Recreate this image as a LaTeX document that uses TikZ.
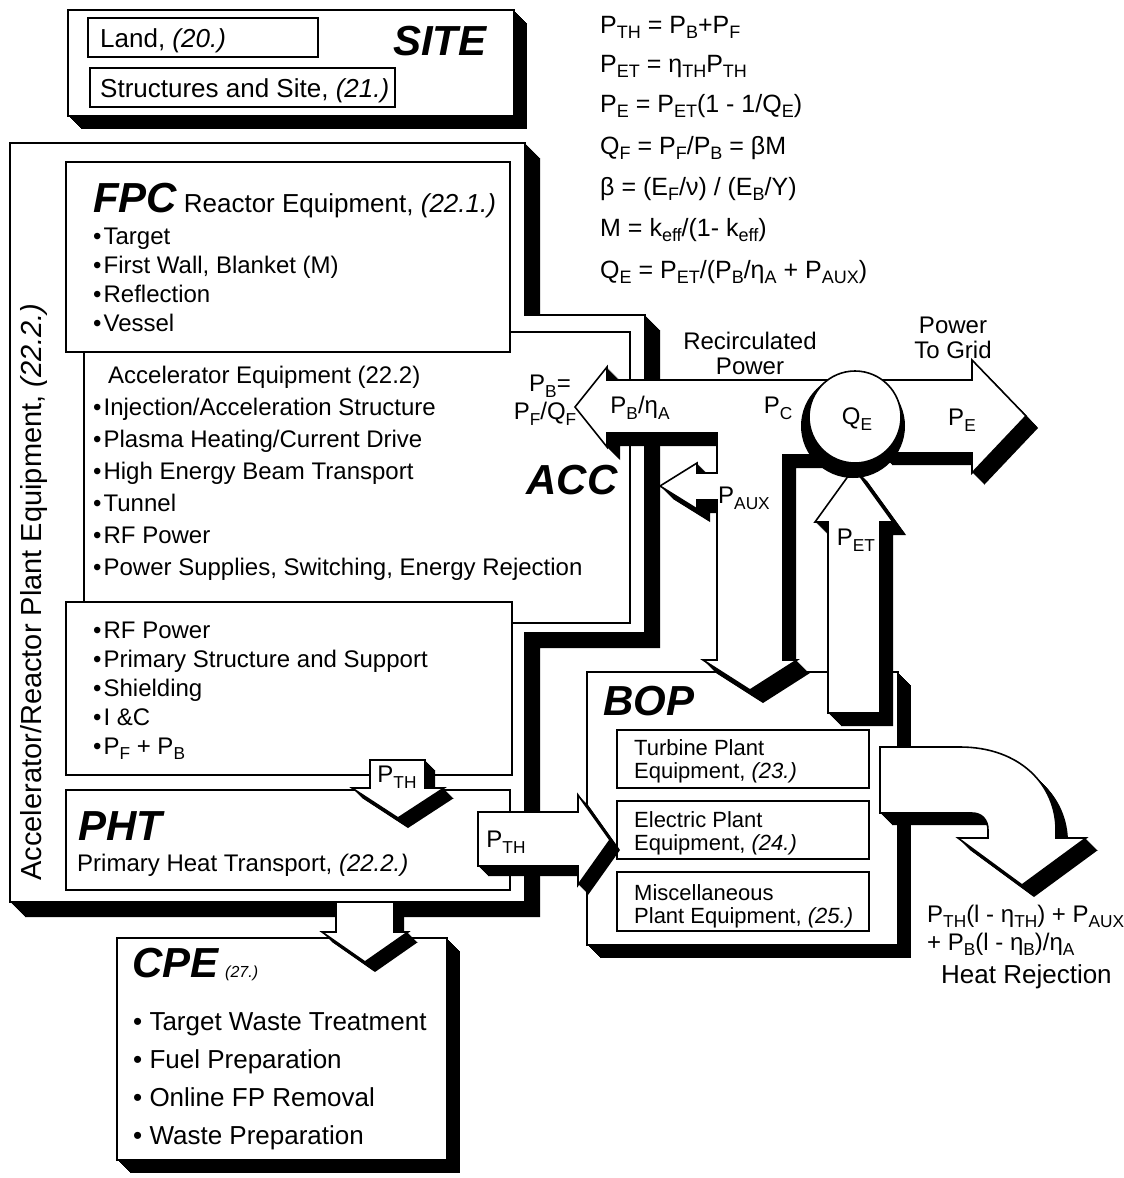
\documentclass[tikz,border=0pt]{standalone}
\usepackage{fontspec}
\setmainfont{Liberation Sans}
\usepackage{graphicx}
\newcommand{\dn}[1]{\raisebox{-0.45ex}{\scalebox{0.72}{#1}}}
\newcommand{\extrude}[2]{%
  \foreach \k in {1,...,#1}{\fill[black, shift={(\k,\k)}] #2;}%
  \filldraw[fill=white, draw=black, line width=1.6pt] #2;}
\tikzset{
  plain/.style={draw=black, fill=white, line width=1.6pt},
  txt/.style={font=\fontsize{24}{28}\selectfont, inner sep=0pt, anchor=base west},
  lbl/.style={font=\fontsize{24}{25}\selectfont, inner sep=0pt, align=center},
  hdr/.style={font=\fontsize{42}{42}\selectfont\bfseries\itshape, inner sep=0pt, anchor=base west},
  eqn/.style={font=\fontsize{25}{28}\selectfont, inner sep=0pt, anchor=base west},
}
\begin{document}
\begin{tikzpicture}[x=1pt, y=-1pt]
    \fill[white] (0,0) rectangle (1124,1178);
    \useasboundingbox (0,0) rectangle (1124,1178);

    % Site
    \extrude{13}{(68,10) rectangle (514,116)}
    \draw[plain] (88,18) rectangle (318,57);
    \draw[plain] (90,68) rectangle (395,107);
    \node[txt, font=\fontsize{26}{28}\selectfont] (land) at (100,47) {Land, \textit{(20.)}};
    \node[txt, font=\fontsize{26}{28}\selectfont] (struct) at (100,97) {Structures and Site, \textit{(21.)}};
    \node[hdr] (site) at (393,55) {SITE};

    % Relations
    \node[eqn] (eq1) at (600,33) {P\dn{TH} = P\dn{B}+P\dn{F}};
    \node[eqn] (eq2) at (600,72) {P\dn{ET} = η\dn{TH}P\dn{TH}};
    \node[eqn] (eq3) at (600,112) {P\dn{E} = P\dn{ET}(1 - 1/Q\dn{E})};
    \node[eqn] (eq4) at (600,154) {Q\dn{F} = P\dn{F}/P\dn{B} = βM};
    \node[eqn] (eq5) at (600,195) {β = (E\dn{F}/ν) / (E\dn{B}/Y)};
    \node[eqn] (eq6) at (600,236) {M = k\dn{eff}/(1- k\dn{eff})};
    \node[eqn] (eq7) at (600,278) {Q\dn{E} = P\dn{ET}/(P\dn{B}/η\dn{A} + P\dn{AUX})};

    % Plant equipment
    \extrude{15}{(10,143) -- (525,143) -- (525,315) -- (645,315) -- (645,633) -- (525,633) -- (525,902) -- (10,902) -- cycle}
    \draw[plain] (66,162) rectangle (510,352);
    \draw[plain] (84,352) -- (510,352) -- (510,332) -- (630,332) -- (630,623) -- (512,623) -- (512,602) -- (84,602) -- cycle;
    \draw[plain] (66,602) rectangle (512,775);
    \draw[plain] (66,790) rectangle (510,890);
    \node[rotate=90, font=\fontsize{29}{29}\selectfont, inner sep=0pt] (plant) at (34,592) {Accelerator/Reactor Plant Equipment, \textit{(22.2.)}};

    \node[txt] (fpc) at (93,212) {{\fontsize{42}{42}\selectfont\bfseries\itshape FPC} {\fontsize{26}{28}\selectfont Reactor Equipment, \textit{(22.1.)}}};
    \foreach \t [count=\i] in {Target, {First Wall, Blanket (M)}, Reflection, Vessel}
        \node[txt] (fpc\i) at (93,215+29*\i) {\textbullet\kern2pt\t};

    \node[txt] (acchd) at (108,383) {Accelerator Equipment (22.2)};
    \foreach \t [count=\i] in {Injection/Acceleration Structure, Plasma Heating/Current Drive, High Energy Beam Transport, Tunnel, RF Power, {Power Supplies, Switching, Energy Rejection}}
        \node[txt] (acc\i) at (93,383+32*\i) {\textbullet\kern2pt\t};

    \foreach \t [count=\i] in {RF Power, Primary Structure and Support, Shielding, I \&C, P\dn{F} + P\dn{B}}
        \node[txt] (rx\i) at (93,609+29*\i) {\textbullet\kern2pt\t};

    \node[hdr] (pht) at (78,840) {PHT};
    \node[txt] (phttxt) at (77,871) {Primary Heat Transport, \textit{(22.2.)}};

    % Balance of plant
    \extrude{13}{(587,672) rectangle (898,945)}
    \draw[plain] (617,730) rectangle (869,788);
    \draw[plain] (617,801) rectangle (869,859);
    \draw[plain] (617,872) rectangle (869,931);
    \node[hdr] (bop) at (603,715) {BOP};
    \node[txt, font=\fontsize{22}{24}\selectfont] (tpe1) at (634,755) {Turbine Plant};
    \node[txt, font=\fontsize{22}{24}\selectfont] (tpe2) at (634,778) {Equipment, \textit{(23.)}};
    \node[txt, font=\fontsize{22}{24}\selectfont] (epe1) at (634,827) {Electric Plant};
    \node[txt, font=\fontsize{22}{24}\selectfont] (epe2) at (634,850) {Equipment, \textit{(24.)}};
    \node[txt, font=\fontsize{22}{24}\selectfont] (mpe1) at (634,900) {Miscellaneous};
    \node[txt, font=\fontsize{22}{24}\selectfont] (mpe2) at (634,923) {Plant Equipment, \textit{(25.)}};

    % Thermal power arrows
    \extrude{10}{(370,760) -- (425,760) -- (425,788) -- (444,788) -- (398,818) -- (352,788) -- (370,788) -- cycle}
    \node[lbl] (pth1) at (397,777) {P\dn{TH}};
    \extrude{10}{(478,812) -- (578,812) -- (578,795) -- (610,840) -- (578,885) -- (578,866) -- (478,866) -- cycle}
    \node[lbl] (pth2) at (506,842) {P\dn{TH}};

    % Chemical processing
    \extrude{13}{(117,938) rectangle (447,1160)}
    \extrude{10}{(336,902) -- (394,902) -- (394,932) -- (408,932) -- (365,962) -- (322,932) -- (336,932) -- cycle}
    \node[txt] (cpe) at (132,977) {{\fontsize{42}{42}\selectfont\bfseries\itshape CPE} {\fontsize{16}{18}\selectfont\itshape (27.)}};
    \foreach \t [count=\i] in {Target Waste Treatment, Fuel Preparation, Online FP Removal, Waste Preparation}
        \node[txt, font=\fontsize{26}{28}\selectfont] (cpe\i) at (133,992+38*\i) {\textbullet\ \t};

    % Heat rejection
    \extrude{12}{(880,747) -- (960,747) .. controls (1020,747) and (1056,785) .. (1056,830) -- (1056,838) -- (1086,838) -- (1022,885) -- (958,838) -- (988,838) -- (988,830) .. controls (988,820) and (982,813) .. (972,813) -- (880,813) -- cycle}
    \node[txt] (heat1) at (927,922) {P\dn{TH}(l - η\dn{TH}) + P\dn{AUX}};
    \node[txt] (heat2) at (927,950) {+ P\dn{B}(l - η\dn{B})/η\dn{A}};
    \node[txt, font=\fontsize{26}{28}\selectfont] (heat3) at (941,983) {Heat Rejection};

    % Recirculated power and grid
    \extrude{13}{(835,380) -- (607,380) -- (607,367) -- (575,407) -- (607,447) -- (607,433) -- (717,433) -- (717,473) -- (697,473) -- (697,463) -- (660,486) -- (697,509) -- (697,500) -- (717,500) -- (717,660) -- (703,660) -- (750,690) -- (797,660) -- (783,660) -- (783,455) -- (835,455) -- cycle}
    \extrude{12}{(880,380) -- (972,380) -- (972,360) -- (1026,416) -- (972,473) -- (972,453) -- (880,453) -- cycle}
    \extrude{13}{(828,713) -- (828,522) -- (815,522) -- (854,468) -- (893,522) -- (880,522) -- (880,713) -- cycle}
    \fill[black] (853,426) circle (52pt);
    \draw[plain] (855,417) circle (46pt);
    \node[lbl] (qe) at (857,419) {Q\dn{E}};

    \node[lbl] (pbeq) at (550,386) {P\dn{B}=};
    \node[lbl] (pfqf) at (545,414) {P\dn{F}/Q\dn{F}};
    \node[lbl] (pbeta) at (640,408) {P\dn{B}/η\dn{A}};
    \node[hdr, anchor=center] (acc) at (572,480) {ACC};
    \node[lbl] (recirc) at (750,353) {Recirculated\\Power};
    \node[lbl] (pc) at (778,408) {P\dn{C}};
    \node[lbl] (grid) at (953,338) {Power\\To Grid};
    \node[lbl] (pe) at (962,420) {P\dn{E}};
    \node[lbl] (paux) at (744,498) {P\dn{AUX}};
    \node[lbl] (pet) at (856,540) {P\dn{ET}};
\end{tikzpicture}
\end{document}
